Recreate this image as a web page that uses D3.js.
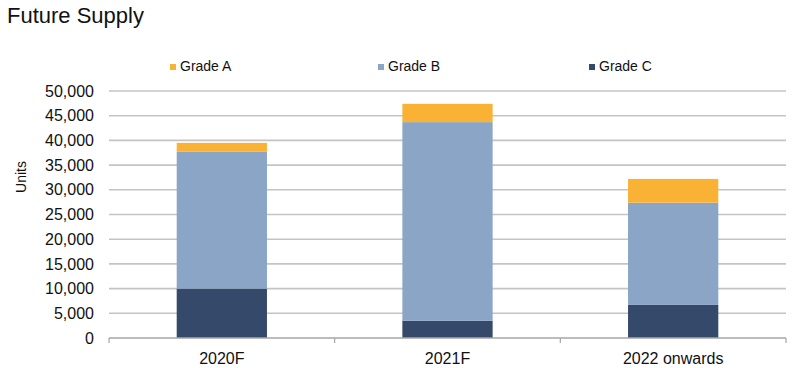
<!DOCTYPE html>
<html lang="en">
<head>
<meta charset="utf-8" />
<title>Future Supply</title>
<script src="https://d3js.org/d3.v7.min.js"></script>
<style>
  body { margin: 0; background: #fff; }
  svg { display: block; font-family: "Liberation Sans", Arial, sans-serif; }
</style>
</head>
<body>
<script>
  // data
  const categories = ["2020F", "2021F", "2022 onwards"];
  const gradeA = [1800, 3700, 4800];
  const gradeB = [27700, 40200, 20700];
  const gradeC = [10000, 3500, 6700];
  const seriesNames = ["Grade A", "Grade B", "Grade C"];
  const seriesColors = ["#F9B233", "#8BA5C6", "#354A6B"];
  const yTicks = [0, 5000, 10000, 15000, 20000, 25000, 30000, 35000, 40000, 45000, 50000];

  const width = 800, height = 368;
  const margin = { left: 109, right: 14, top: 91, bottom: 30 };

  const svg = d3.select("body").append("svg")
    .attr("width", width)
    .attr("height", height);

  // title
  svg.append("text")
    .attr("x", 7)
    .attr("y", 23)
    .attr("font-size", 22)
    .attr("fill", "#111")
    .text("Future Supply");

  const x = d3.scaleBand()
    .domain(categories)
    .range([margin.left, width - margin.right])
    .paddingInner(0.6)
    .paddingOuter(0.3);

  const y = d3.scaleLinear()
    .domain([0, 50000])
    .range([height - margin.bottom, margin.top]);

  // gridlines
  svg.append("g")
    .selectAll("line")
    .data(yTicks.slice(1))
    .enter()
    .append("line")
    .attr("x1", margin.left)
    .attr("x2", width - margin.right)
    .attr("y1", d => y(d))
    .attr("y2", d => y(d))
    .attr("stroke", "#C4C4C4")
    .attr("stroke-width", 1.6);

  // stacked bars, bottom series first
  const rows = categories.map((c, i) => ({ cat: c, "Grade C": gradeC[i], "Grade B": gradeB[i], "Grade A": gradeA[i] }));
  const stack = d3.stack().keys(["Grade C", "Grade B", "Grade A"])(rows);
  const color = d3.scaleOrdinal().domain(seriesNames).range(seriesColors);

  svg.append("g")
    .selectAll("g")
    .data(stack)
    .enter()
    .append("g")
    .attr("fill", d => color(d.key))
    .selectAll("rect")
    .data(d => d)
    .enter()
    .append("rect")
    .attr("x", d => x(d.data.cat))
    .attr("width", x.bandwidth())
    .attr("y", d => y(d[1]))
    .attr("height", d => y(d[0]) - y(d[1]));

  // y axis labels (no axis line)
  const yAxis = d3.axisLeft(y)
    .tickValues(yTicks)
    .tickFormat(d3.format(","))
    .tickSize(0)
    .tickPadding(15);
  const gy = svg.append("g")
    .attr("transform", "translate(" + margin.left + ",0)")
    .call(yAxis);
  gy.select(".domain").remove();
  gy.selectAll("text")
    .attr("font-size", 16)
    .attr("font-family", "'Liberation Sans', Arial, sans-serif")
    .attr("fill", "#111");

  // x axis with ticks at category boundaries
  const baseY = y(0);
  const xg = svg.append("g");
  xg.append("line")
    .attr("x1", margin.left)
    .attr("x2", width - margin.right)
    .attr("y1", baseY)
    .attr("y2", baseY)
    .attr("stroke", "#A6A6A6")
    .attr("stroke-width", 1.6);
  const step = (width - margin.right - margin.left) / categories.length;
  xg.selectAll("line.tick")
    .data(d3.range(categories.length + 1))
    .enter()
    .append("line")
    .attr("class", "tick")
    .attr("x1", i => margin.left + i * step)
    .attr("x2", i => margin.left + i * step)
    .attr("y1", baseY)
    .attr("y2", baseY + 5)
    .attr("stroke", "#A6A6A6")
    .attr("stroke-width", 1.2);
  xg.selectAll("text")
    .data(categories)
    .enter()
    .append("text")
    .attr("x", d => x(d) + x.bandwidth() / 2)
    .attr("y", baseY + 26)
    .attr("text-anchor", "middle")
    .attr("font-size", 16)
    .attr("fill", "#111")
    .text(d => d);

  // y axis title
  svg.append("text")
    .attr("transform", "translate(26,177) rotate(-90)")
    .attr("text-anchor", "middle")
    .attr("font-size", 14)
    .attr("fill", "#111")
    .text("Units");

  // legend
  const legendX = [170, 378, 589];
  const legend = svg.append("g")
    .selectAll("g")
    .data(seriesNames)
    .enter()
    .append("g")
    .attr("transform", (d, i) => "translate(" + legendX[i] + ",64)");
  legend.append("rect")
    .attr("width", 6)
    .attr("height", 6)
    .attr("fill", d => color(d));
  legend.append("text")
    .attr("x", 10)
    .attr("y", 7)
    .attr("font-size", 14)
    .attr("fill", "#111")
    .text(d => d);
</script>
</body>
</html>
